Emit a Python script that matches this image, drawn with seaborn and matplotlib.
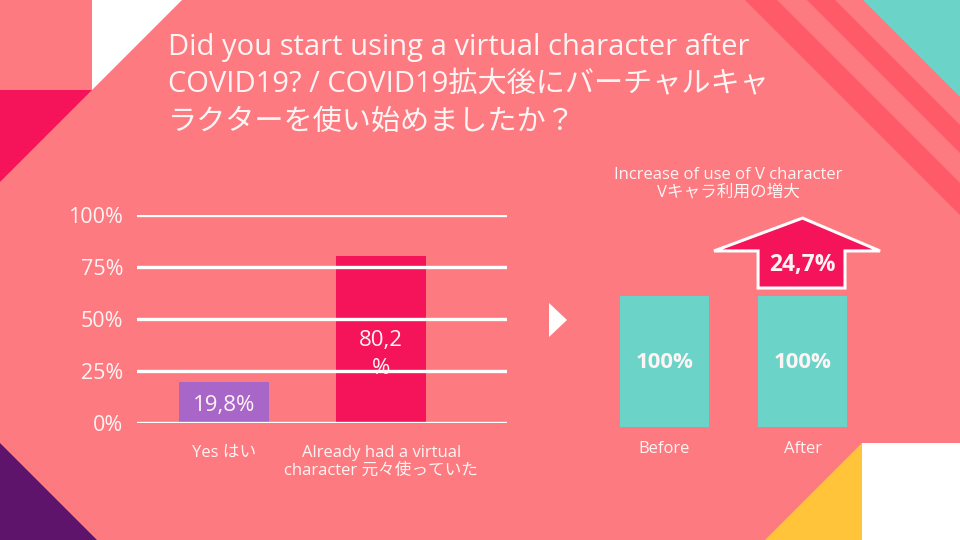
import matplotlib
matplotlib.use("Agg")
import matplotlib.pyplot as plt
import seaborn as sns
import pandas as pd
from matplotlib.patches import Polygon

# ---- data ----
title_lines = ["Did you start using a virtual character after",
               "COVID19? / COVID19拡大後にバーチャルキャ",
               "ラクターを使い始めましたか？"]
categories = ["Yes はい", "Already had a virtual\ncharacter 元々使っていた"]
values = [19.8, 80.2]
value_labels = ["19,8%", "80,2\n%"]
bar_colors = ["#A866C8", "#F5145A"]
yticks = [0, 25, 50, 75, 100]
ytick_labels = ["0%", "25%", "50%", "75%", "100%"]

right_title = "Increase of use of V character\nVキャラ利用の増大"
periods = ["Before", "After"]
period_values = [100, 100]
period_labels = ["100%", "100%"]
increase_label = "24,7%"

BG = "#FC7A80"
WHITE = "#FFF4F4"
TEAL = "#6BD3C8"
CRIMSON = "#F5145A"

sns.set_theme(style="white")
FONT = ["Open Sans", "Noto Sans CJK JP", "DejaVu Sans"]
plt.rcParams["font.family"] = FONT

W, H = 960, 540
fig = plt.figure(figsize=(9.6, 5.4), dpi=100, facecolor=BG)


def px(pts):
    return [(x / W, 1 - y / H) for x, y in pts]


def deco(pts, color, z=0):
    fig.add_artist(Polygon(px(pts), closed=True, facecolor=color,
                           edgecolor="none", transform=fig.transFigure, zorder=z))


# decorative corner shapes
deco([(92, 0), (182, 0), (92, 90)], "#FFFFFF")
deco([(0, 90), (92, 90), (0, 182)], "#F5145A")
deco([(863, 0), (960, 0), (960, 97)], "#6BD3C8")
deco([(807, 0), (835, 0), (960, 125), (960, 153)], "#FF5A68")
deco([(745, 0), (777, 0), (960, 183), (960, 215)], "#FF5A68")
deco([(0, 443), (0, 540), (97, 540)], "#5E146A")
deco([(862, 443), (960, 443), (960, 540), (862, 540)], "#FFFFFF")
deco([(862, 443), (862, 540), (765, 540)], "#FFC43A")
deco([(549, 303), (549, 337), (567, 320)], "#FFFFFF")

# title
for i, line in enumerate(title_lines):
    fig.text(168 / W, 1 - (48 + 37 * i) / H, line, color=WHITE, fontsize=21,
             ha="left", va="center", family=FONT)

# ---- left bar chart ----
ax = fig.add_axes([137 / W, 1 - 423 / H, 370 / W, 208 / H])
ax.set_facecolor("none")
df = pd.DataFrame({"cat": categories, "val": values})
sns.barplot(data=df, x="cat", y="val", hue="cat", palette=bar_colors,
            legend=False, width=0.57, saturation=1, linewidth=0,
            edgecolor="none", ax=ax)
ax.set_xlim(-0.554, 1.80)
ax.set_ylim(0, 100)
ax.set_yticks(yticks)
ax.set_yticklabels(ytick_labels)
ax.set_axisbelow(False)
ax.yaxis.grid(True, color="white", linewidth=2.4)
ax.xaxis.grid(False)
for s in ax.spines.values():
    s.set_visible(False)
ax.set_xlabel("")
ax.set_ylabel("")
ax.tick_params(axis="y", length=0, pad=10, labelsize=15.5, labelcolor=WHITE)
ax.tick_params(axis="x", length=0, pad=16, labelsize=12, labelcolor=WHITE)
for lab in ax.get_xticklabels():
    lab.set_linespacing(1.1)
for i, (v, lab) in enumerate(zip(values, value_labels)):
    if "\n" in lab:
        ax.text(i, 33, lab, ha="center", va="center", color=WHITE,
                fontsize=16, linespacing=1.4, zorder=4)
    else:
        ax.text(i, 8.2, lab, ha="center", va="center", color=WHITE,
                fontsize=16, zorder=4)

# ---- right graphic ----
ax2 = fig.add_axes([590 / W, 1 - 427 / H, 310 / W, 227 / H])
ax2.set_facecolor("none")
df2 = pd.DataFrame({"period": periods, "val": period_values})
sns.barplot(data=df2, x="period", y="val", color=TEAL, width=0.645,
            saturation=1, linewidth=0, edgecolor="none", ax=ax2)
ax2.set_xlim(-0.54, 1.7065)
ax2.set_ylim(0, 173.3)
ax2.set_yticks([])
for s in ax2.spines.values():
    s.set_visible(False)
ax2.set_xlabel("")
ax2.set_ylabel("")
ax2.grid(False)
ax2.tick_params(axis="x", length=0, pad=10, labelsize=12, labelcolor=WHITE)
for i, lab in enumerate(period_labels):
    ax2.text(i, 49, lab, ha="center", va="center", color=WHITE,
             fontsize=16, fontweight="bold")

arrow = Polygon([(0.678, 106.1), (0.678, 134.4), (0.359, 134.4), (1.0, 159.5),
                 (1.562, 134.4), (1.308, 134.4), (1.308, 106.1)], closed=True,
                facecolor=CRIMSON, edgecolor="white", linewidth=2.2,
                joinstyle="miter", zorder=3, clip_on=False)
ax2.add_patch(arrow)
ax2.text(1.0, 123.7, increase_label, ha="center", va="center", color=WHITE,
         fontsize=16.5, fontweight="bold", zorder=4)

fig.text(728 / W, 1 - 184 / H, right_title, ha="center", va="center",
         color=WHITE, fontsize=12, linespacing=1.15)

fig.savefig("out.png", dpi=100, facecolor=BG)
